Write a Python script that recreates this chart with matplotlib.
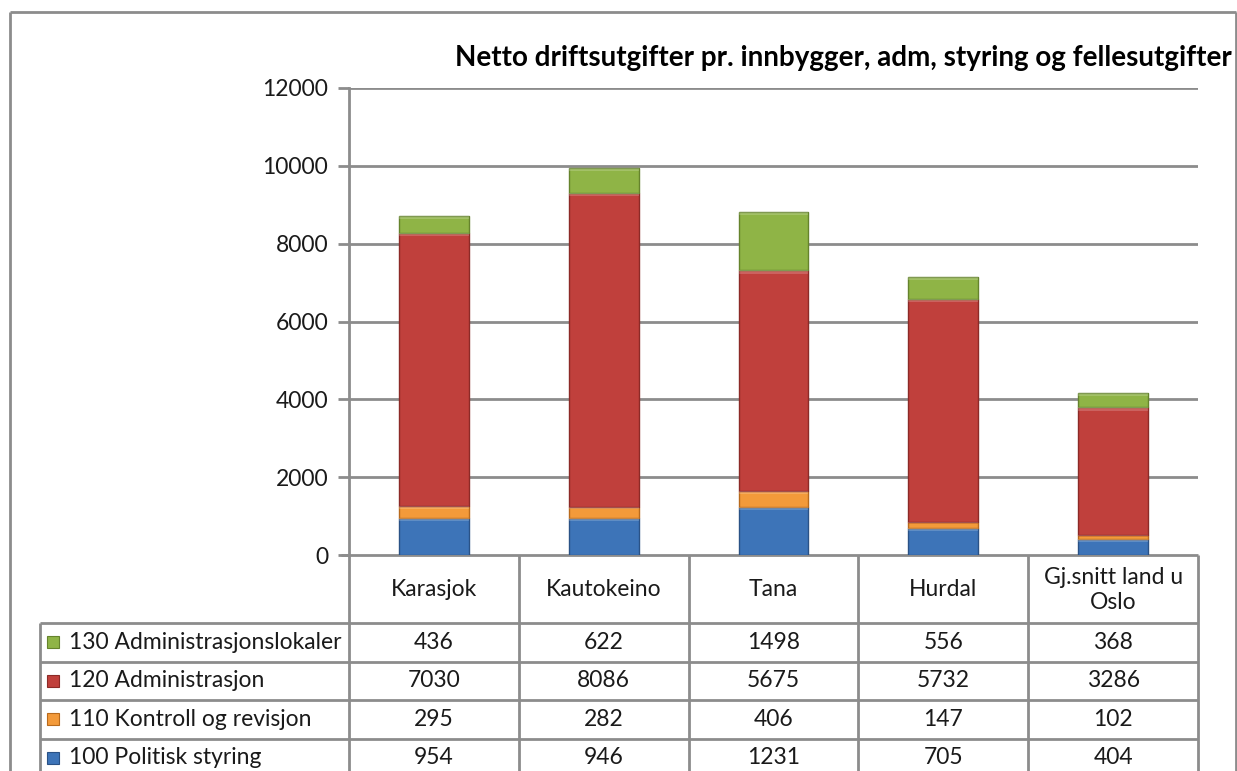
import numpy as np
import matplotlib
matplotlib.use('Agg')
import matplotlib.pyplot as plt
from matplotlib.patches import Rectangle

plt.rcParams['font.family'] = ['Lato', 'DejaVu Sans']

# data
kommuner = ['Karasjok', 'Kautokeino', 'Tana', 'Hurdal', 'Gj.snitt land u\nOslo']
serier = ['100 Politisk styring', '110 Kontroll og revisjon',
          '120 Administrasjon', '130 Administrasjonslokaler']
politisk = [954, 946, 1231, 705, 404]
kontroll = [295, 282, 406, 147, 102]
administrasjon = [7030, 8086, 5675, 5732, 3286]
lokaler = [436, 622, 1498, 556, 368]
verdier = [politisk, kontroll, administrasjon, lokaler]
farger = ['#3d74b8', '#f39a3a', '#c0403c', '#8fb446']
kantfarger = ['#2a5286', '#b86a1c', '#8c2a27', '#65832c']
tittel = 'Netto driftsutgifter pr. innbygger, adm, styring og fellesutgifter'

W, H = 1237, 771
grey = '#8c8c8c'

fig = plt.figure(figsize=(W / 100, H / 100), dpi=100)

# pixel layout of the Excel chart
x0, x1 = 349, 1198
ytop, ybot = 88, 555
ax = fig.add_axes([x0 / W, 1 - ybot / H, (x1 - x0) / W, (ybot - ytop) / H])

x = np.arange(len(kommuner))
bunn = np.zeros(len(kommuner))
bredde = 0.41
for vals, c, ec in zip(verdier, farger, kantfarger):
    vals = np.array(vals, dtype=float)
    ax.bar(x, vals, bredde, bottom=bunn, color=c, edgecolor=ec, linewidth=1.0, zorder=3)
    # soft bevel: light edge on top of each segment
    band = np.minimum(vals * 0.2, 80)
    ax.bar(x, band, bredde, bottom=bunn + vals - band,
           color='white', alpha=0.18, linewidth=0, zorder=4)
    bunn += vals

ax.set_xlim(-0.5, len(kommuner) - 0.5)
ax.set_ylim(0, 12000)
ax.set_yticks(np.arange(0, 12001, 2000))
ax.yaxis.grid(True, color=grey, linewidth=2, zorder=0)
ax.set_axisbelow(True)
for s in ['top', 'right', 'bottom']:
    ax.spines[s].set_visible(False)
ax.spines['left'].set_color(grey)
ax.spines['left'].set_linewidth(2)
ax.set_xticks([])
ax.tick_params(axis='y', length=8, width=2, color=grey, labelsize=16.5,
               labelcolor='#1a1a1a', pad=7)

# data table and frame drawn in pixel coordinates
tb = fig.add_axes([0, 0, 1, 1], zorder=-1)
tb.set_xlim(0, W)
tb.set_ylim(H, 0)
tb.axis('off')

def linje(xa, ya, xb, yb):
    tb.plot([xa, xb], [ya, yb], color=grey, linewidth=2, solid_capstyle='butt')

# outer chart frame
linje(10, 12, 1236, 12)
linje(10, 12, 10, H)
linje(1236, 12, 1236, H)

tab_left = 40
hode = 623
radh = 38.5
kolb = (x1 - x0) / len(kommuner)
linje(x0 - 8, ybot, x1, ybot)
linje(x0, ybot, x0, H)
for i in range(1, len(kommuner) + 1):
    linje(x0 + i * kolb, ybot, x0 + i * kolb, H)
linje(tab_left, hode, tab_left, H)
for r in range(len(serier)):
    linje(tab_left, hode + r * radh, x1, hode + r * radh)

for i, k in enumerate(kommuner):
    tb.text(x0 + (i + 0.5) * kolb, (ybot + hode) / 2 + 1, k, ha='center', va='center',
            fontsize=16.5, color='#1a1a1a', linespacing=1.2)

for r, idx in enumerate(range(len(serier) - 1, -1, -1)):
    yc = hode + (r + 0.5) * radh
    tb.add_patch(Rectangle((47, yc - 6), 12, 12, facecolor=farger[idx],
                           edgecolor=kantfarger[idx], linewidth=0.8))
    tb.text(69, yc, serier[idx], ha='left', va='center', fontsize=16.5, color='#1a1a1a')
    for i, v in enumerate(verdier[idx]):
        tb.text(x0 + (i + 0.5) * kolb, yc, str(v), ha='center', va='center',
                fontsize=16.5, color='#1a1a1a')

fig.text(1232 / W, 1 - 58 / H, tittel, ha='right', va='center',
         fontsize=20, fontweight='bold', color='black')

fig.savefig('out.png', dpi=100, facecolor='white')
